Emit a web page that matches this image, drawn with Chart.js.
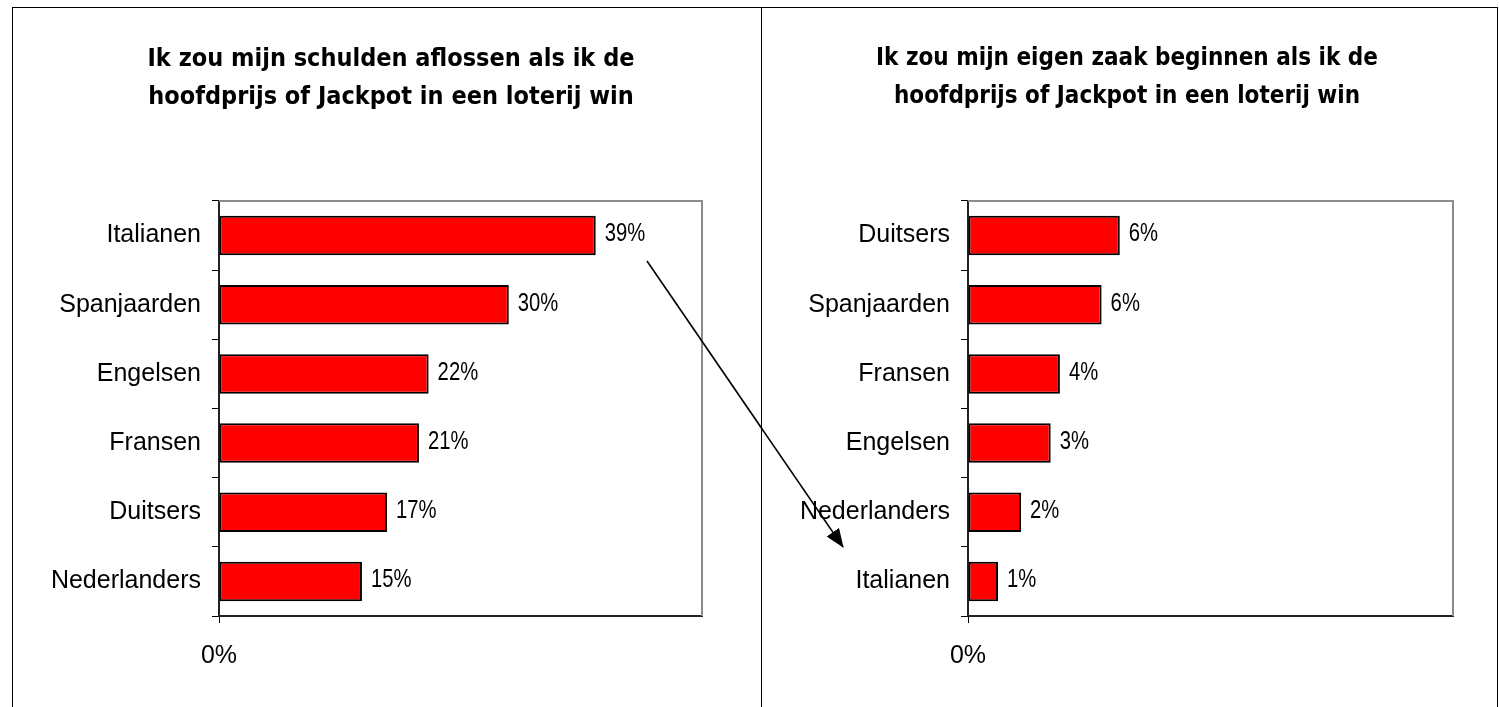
<!DOCTYPE html>
<html>
<head>
<meta charset="utf-8">
<script src="https://cdn.jsdelivr.net/npm/chart.js@4/dist/chart.umd.min.js"></script>
<style>
  html, body { margin: 0; padding: 0; background: #fff; }
  #page { position: relative; width: 1499px; height: 707px; overflow: hidden; }
  .line { position: absolute; background: #000; }
  .panel { position: absolute; }
  #arrow { position: absolute; left: 0; top: 0; pointer-events: none; }
</style>
</head>
<body>
<div id="page">
  <div class="line" style="left:12px; top:7px; width:1486px; height:1px;"></div>
  <div class="line" style="left:12px; top:7px; width:1px; height:700px;"></div>
  <div class="line" style="left:761px; top:7px; width:1px; height:700px;"></div>
  <div class="line" style="left:1497px; top:7px; width:1px; height:700px;"></div>

  <div class="panel" style="left:13px; top:8px; width:748px; height:699px;">
    <canvas id="debtChart"></canvas>
  </div>
  <div class="panel" style="left:762px; top:8px; width:735px; height:699px;">
    <canvas id="businessChart"></canvas>
  </div>

  <svg id="arrow" width="1499" height="707">
    <defs>
      <marker id="head" markerWidth="19" markerHeight="15" refX="18" refY="7.5" orient="auto" markerUnits="userSpaceOnUse">
        <path d="M0,0 L19,7.5 L0,15 Z" fill="#000"></path>
      </marker>
    </defs>
    <line x1="647" y1="261" x2="843" y2="547" stroke="#000" stroke-width="1.6" marker-end="url(#head)"></line>
  </svg>
</div>

<script>
// left chart: schulden aflossen
const debtTitle = ["Ik zou mijn schulden aflossen als ik de", "hoofdprijs of Jackpot in een loterij win"];
const debtLabels = ["Italianen", "Spanjaarden", "Engelsen", "Fransen", "Duitsers", "Nederlanders"];
const debtValues = [39.0, 30.0, 21.7, 20.7, 17.4, 14.8];
const debtMax = 50;

// right chart: eigen zaak beginnen
const businessTitle = ["Ik zou mijn eigen zaak beginnen als ik de", "hoofdprijs of Jackpot in een loterij win"];
const businessLabels = ["Duitsers", "Spanjaarden", "Fransen", "Engelsen", "Nederlanders", "Italianen"];
const businessValues = [6.26, 5.51, 3.79, 3.41, 2.19, 1.24];
const businessMax = 20;

const xTickLabels = ["0%"];

const labelFont = { family: "'Liberation Sans', Arial, sans-serif", size: 25 };
const valueFont = "25px 'Liberation Sans', Arial, sans-serif";
const titleFamily = "'DejaVu Sans Condensed', 'DejaVu Sans', sans-serif";

// two-line title centred over the panel (not over the plot)
const panelTitlePlugin = {
    id: "panelTitle",
    afterDraw(chart, args, opts) {
        const ctx = chart.ctx;
        ctx.save();
        ctx.font = "bold " + opts.size + "px " + titleFamily;
        ctx.fillStyle = "#000";
        ctx.textAlign = "center";
        ctx.textBaseline = "middle";
        opts.lines.forEach(function (t, i) {
            ctx.fillText(t, opts.x, 51 + i * 38);
        });
        ctx.restore();
    }
};

// grey frame on the top and right of the plot area
const framePlugin = {
    id: "frame",
    beforeDatasetsDraw(chart) {
        const a = chart.chartArea;
        const ctx = chart.ctx;
        ctx.save();
        ctx.strokeStyle = "#8c8c8c";
        ctx.lineWidth = 2;
        ctx.beginPath();
        ctx.moveTo(a.left, a.top);
        ctx.lineTo(a.right, a.top);
        ctx.lineTo(a.right, a.bottom);
        ctx.stroke();
        ctx.restore();
    }
};

// percentage label right of every bar (squeezed a bit like a narrow font)
const valueLabelPlugin = {
    id: "valueLabels",
    afterDatasetsDraw(chart) {
        const ctx = chart.ctx;
        const meta = chart.getDatasetMeta(0);
        meta.data.forEach(function (bar, i) {
            const v = chart.data.datasets[0].data[i];
            ctx.save();
            ctx.font = valueFont;
            ctx.fillStyle = "#000";
            ctx.textAlign = "left";
            ctx.textBaseline = "middle";
            ctx.translate(bar.x + 9, bar.y - 1);
            ctx.scale(0.81, 1);
            ctx.fillText(Math.round(v) + "%", 0, 0);
            ctx.restore();
        });
    }
};

function makeChart(canvasId, title, titleSize, titleX, labels, values, maxValue, rightPad) {
    return new Chart(document.getElementById(canvasId), {
        type: "bar",
        data: {
            labels: labels,
            datasets: [
                {
                    data: values,
                    backgroundColor: "#ff0000",
                    borderColor: "#000",
                    borderWidth: 2,
                    borderSkipped: false,
                    barPercentage: 0.57,
                    categoryPercentage: 1
                }
            ]
        },
        options: {
            indexAxis: "y",
            responsive: true,
            maintainAspectRatio: false,
            animation: false,
            layout: { padding: { left: 0, right: rightPad, top: 193, bottom: 0 } },
            plugins: {
                legend: { display: false },
                tooltip: { enabled: false },
                title: { display: false },
                panelTitle: { lines: title, size: titleSize, x: titleX }
            },
            scales: {
                y: {
                    afterFit: function (scale) { scale.width = 206; },
                    grid: {
                        offset: true,
                        drawOnChartArea: false,
                        tickLength: 7,
                        color: "#000"
                    },
                    border: { color: "#222", width: 2 },
                    ticks: { color: "#000", font: labelFont, padding: 11 }
                },
                x: {
                    min: 0,
                    max: maxValue,
                    afterFit: function (scale) { scale.height = 91; },
                    grid: {
                        drawOnChartArea: false,
                        tickLength: 7,
                        color: function (ctx) { return ctx.tick && ctx.tick.value === 0 ? "#000" : "rgba(0,0,0,0)"; }
                    },
                    border: { color: "#222", width: 2 },
                    ticks: {
                        stepSize: maxValue,
                        color: "#000",
                        font: labelFont,
                        padding: 18,
                        maxRotation: 0,
                        callback: function (value) {
                            return value === 0 ? xTickLabels[0] : "";
                        }
                    }
                }
            }
        },
        plugins: [panelTitlePlugin, framePlugin, valueLabelPlugin]
    });
}

makeChart("debtChart", debtTitle, 25, 378, debtLabels, debtValues, debtMax, 59);
makeChart("businessChart", businessTitle, 24, 365, businessLabels, businessValues, businessMax, 44);
</script>
</body>
</html>
